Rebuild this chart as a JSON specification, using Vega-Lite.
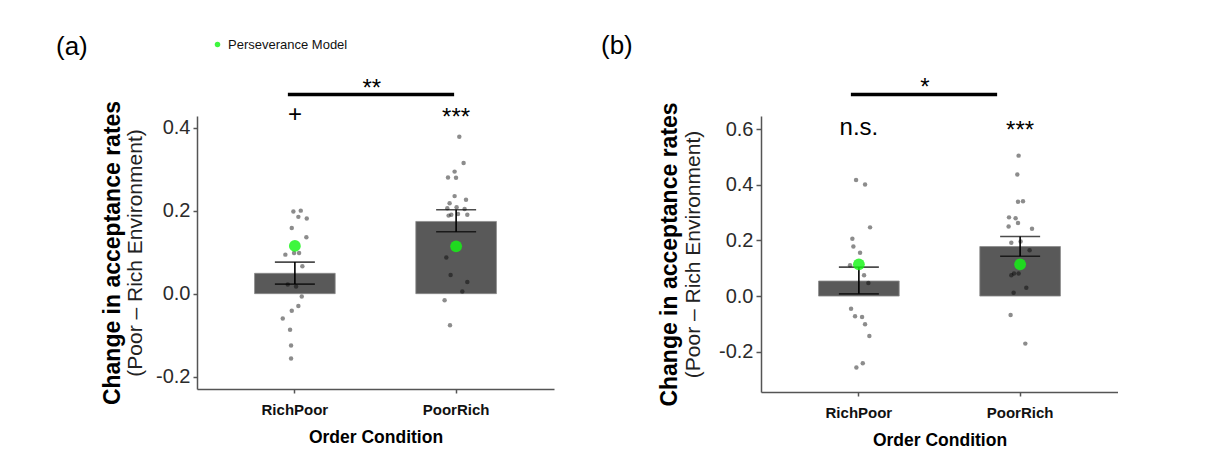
{
  "$schema": "https://vega.github.io/schema/vega-lite/v6.json",
  "background": "white",
  "padding": {"left": 56, "top": 33, "right": 0, "bottom": 0},
  "config": {"font": "Liberation Sans", "view": {"stroke": null}},
  "spacing": 47,
  "datasets": {
    "pts": [
      {"panel": "a", "cond": "RichPoor", "value": 0.198, "jit": -1.7},
      {"panel": "a", "cond": "RichPoor", "value": 0.200, "jit": 5.7},
      {"panel": "a", "cond": "RichPoor", "value": 0.185, "jit": 3.3},
      {"panel": "a", "cond": "RichPoor", "value": 0.181, "jit": 11.7},
      {"panel": "a", "cond": "RichPoor", "value": 0.158, "jit": -3.3},
      {"panel": "a", "cond": "RichPoor", "value": 0.136, "jit": 11.3},
      {"panel": "a", "cond": "RichPoor", "value": 0.094, "jit": -9.7},
      {"panel": "a", "cond": "RichPoor", "value": 0.098, "jit": -1},
      {"panel": "a", "cond": "RichPoor", "value": 0.098, "jit": 4},
      {"panel": "a", "cond": "RichPoor", "value": 0.066, "jit": 7.3},
      {"panel": "a", "cond": "RichPoor", "value": 0.022, "jit": -7.3},
      {"panel": "a", "cond": "RichPoor", "value": 0.017, "jit": 1},
      {"panel": "a", "cond": "RichPoor", "value": -0.007, "jit": 6.7},
      {"panel": "a", "cond": "RichPoor", "value": -0.030, "jit": 3.3},
      {"panel": "a", "cond": "RichPoor", "value": -0.041, "jit": -3.3},
      {"panel": "a", "cond": "RichPoor", "value": -0.060, "jit": -12.3},
      {"panel": "a", "cond": "RichPoor", "value": -0.087, "jit": -5},
      {"panel": "a", "cond": "RichPoor", "value": -0.125, "jit": -4},
      {"panel": "a", "cond": "RichPoor", "value": -0.156, "jit": -4},
      {"panel": "a", "cond": "PoorRich", "value": 0.378, "jit": 3},
      {"panel": "a", "cond": "PoorRich", "value": 0.315, "jit": 7.3},
      {"panel": "a", "cond": "PoorRich", "value": 0.294, "jit": -1.7},
      {"panel": "a", "cond": "PoorRich", "value": 0.280, "jit": -8.3},
      {"panel": "a", "cond": "PoorRich", "value": 0.279, "jit": -0.3},
      {"panel": "a", "cond": "PoorRich", "value": 0.235, "jit": -1.7},
      {"panel": "a", "cond": "PoorRich", "value": 0.226, "jit": 9.7},
      {"panel": "a", "cond": "PoorRich", "value": 0.218, "jit": -6.7},
      {"panel": "a", "cond": "PoorRich", "value": 0.206, "jit": -9},
      {"panel": "a", "cond": "PoorRich", "value": 0.208, "jit": 0.3},
      {"panel": "a", "cond": "PoorRich", "value": 0.204, "jit": 8.3},
      {"panel": "a", "cond": "PoorRich", "value": 0.188, "jit": -7.7},
      {"panel": "a", "cond": "PoorRich", "value": 0.190, "jit": -5},
      {"panel": "a", "cond": "PoorRich", "value": 0.192, "jit": 1.7},
      {"panel": "a", "cond": "PoorRich", "value": 0.190, "jit": 11},
      {"panel": "a", "cond": "PoorRich", "value": 0.087, "jit": -10},
      {"panel": "a", "cond": "PoorRich", "value": 0.045, "jit": -5.7},
      {"panel": "a", "cond": "PoorRich", "value": 0.028, "jit": 11},
      {"panel": "a", "cond": "PoorRich", "value": 0.005, "jit": 6},
      {"panel": "a", "cond": "PoorRich", "value": -0.016, "jit": -11.7},
      {"panel": "a", "cond": "PoorRich", "value": -0.076, "jit": -6.3},
      {"panel": "b", "cond": "RichPoor", "value": 0.417, "jit": -3},
      {"panel": "b", "cond": "RichPoor", "value": 0.401, "jit": 6},
      {"panel": "b", "cond": "RichPoor", "value": 0.247, "jit": 11},
      {"panel": "b", "cond": "RichPoor", "value": 0.206, "jit": -6.7},
      {"panel": "b", "cond": "RichPoor", "value": 0.178, "jit": -5.7},
      {"panel": "b", "cond": "RichPoor", "value": 0.156, "jit": 1},
      {"panel": "b", "cond": "RichPoor", "value": 0.111, "jit": -9},
      {"panel": "b", "cond": "RichPoor", "value": 0.075, "jit": 5},
      {"panel": "b", "cond": "RichPoor", "value": 0.047, "jit": 9.3},
      {"panel": "b", "cond": "RichPoor", "value": -0.046, "jit": -8},
      {"panel": "b", "cond": "RichPoor", "value": -0.073, "jit": -4},
      {"panel": "b", "cond": "RichPoor", "value": -0.075, "jit": 3},
      {"panel": "b", "cond": "RichPoor", "value": -0.101, "jit": 6},
      {"panel": "b", "cond": "RichPoor", "value": -0.144, "jit": 10.3},
      {"panel": "b", "cond": "RichPoor", "value": -0.242, "jit": 3.7},
      {"panel": "b", "cond": "RichPoor", "value": -0.257, "jit": -2.7},
      {"panel": "b", "cond": "PoorRich", "value": 0.505, "jit": -1.7},
      {"panel": "b", "cond": "PoorRich", "value": 0.437, "jit": -3},
      {"panel": "b", "cond": "PoorRich", "value": 0.339, "jit": -2.3},
      {"panel": "b", "cond": "PoorRich", "value": 0.341, "jit": 2.7},
      {"panel": "b", "cond": "PoorRich", "value": 0.283, "jit": -11.3},
      {"panel": "b", "cond": "PoorRich", "value": 0.280, "jit": -4.7},
      {"panel": "b", "cond": "PoorRich", "value": 0.263, "jit": -2.3},
      {"panel": "b", "cond": "PoorRich", "value": 0.250, "jit": -11.7},
      {"panel": "b", "cond": "PoorRich", "value": 0.242, "jit": 11.7},
      {"panel": "b", "cond": "PoorRich", "value": 0.192, "jit": -9},
      {"panel": "b", "cond": "PoorRich", "value": 0.196, "jit": 0.3},
      {"panel": "b", "cond": "PoorRich", "value": 0.165, "jit": 9.3},
      {"panel": "b", "cond": "PoorRich", "value": 0.075, "jit": -9},
      {"panel": "b", "cond": "PoorRich", "value": 0.081, "jit": -6.3},
      {"panel": "b", "cond": "PoorRich", "value": 0.081, "jit": -1.7},
      {"panel": "b", "cond": "PoorRich", "value": 0.030, "jit": 6},
      {"panel": "b", "cond": "PoorRich", "value": 0.012, "jit": -6.7},
      {"panel": "b", "cond": "PoorRich", "value": -0.068, "jit": -9.7},
      {"panel": "b", "cond": "PoorRich", "value": -0.171, "jit": 5}
    ],
    "summ": [
      {"panel": "a", "cond": "RichPoor", "mean": 0.049, "lo": 0.023, "hi": 0.076, "model": 0.115, "ml": "Perseverance Model"},
      {"panel": "a", "cond": "PoorRich", "mean": 0.174, "lo": 0.149, "hi": 0.202, "model": 0.114, "ml": "Perseverance Model"},
      {"panel": "b", "cond": "RichPoor", "mean": 0.054, "lo": 0.008, "hi": 0.104, "model": 0.114, "ml": "Perseverance Model"},
      {"panel": "b", "cond": "PoorRich", "mean": 0.178, "lo": 0.143, "hi": 0.214, "model": 0.114, "ml": "Perseverance Model"}
    ],
    "ann": [
      {"panel": "a", "cond": "RichPoor", "label": "+", "y": 0.4135},
      {"panel": "a", "cond": "PoorRich", "label": "***", "y": 0.407},
      {"panel": "b", "cond": "RichPoor", "label": "n.s.", "y": 0.578},
      {"panel": "b", "cond": "PoorRich", "label": "***", "y": 0.568}
    ],
    "brk": [
      {"panel": "a", "from": "RichPoor", "to": "PoorRich", "y": 0.4795, "ly": 0.475, "label": "**"},
      {"panel": "b", "from": "RichPoor", "to": "PoorRich", "y": 0.725, "ly": 0.722, "label": "*"}
    ]
  },
  "hconcat": [
    {
      "width": 357,
      "height": 273,
      "title": {"text": "(a)", "anchor": "start", "frame": "group", "dx": -141, "dy": -13, "fontSize": 26, "fontWeight": "normal", "color": "#000"},
      "layer": [
        {
          "data": {"name": "summ"},
          "transform": [{"filter": "datum.panel == 'a'"}],
          "mark": {"type": "bar", "color": "#595959", "stroke": "#8a8a8a", "strokeWidth": 0.8},
          "encoding": {
            "x": {"field": "cond", "type": "nominal", "scale": {"domain": ["RichPoor", "PoorRich"], "paddingInner": 0.5, "paddingOuter": 0.357},
              "axis": {"title": "Order Condition", "labelAngle": 0, "labelFontSize": 15, "labelFontWeight": "bold", "labelColor": "#111", "labelPadding": 9, "tickSize": 4, "tickColor": "#555", "tickWidth": 1.5, "domainColor": "#555", "domainWidth": 1.5, "titleFontSize": 17.5, "titleFontWeight": "bold", "titleColor": "#000", "titlePadding": 11}},
            "y": {"field": "mean", "type": "quantitative", "scale": {"domain": [-0.2297, 0.428], "nice": false, "zero": false},
              "axis": {"title": "Change in acceptance rates", "values": [-0.2, 0, 0.2, 0.4], "format": ".1f", "labelExpr": "replace(datum.label, '\u2212', '-')", "grid": false, "labelFontSize": 20, "labelColor": "#2b2b2b", "labelPadding": 3, "tickSize": 4, "tickColor": "#555", "tickWidth": 1.5, "domainColor": "#555", "domainWidth": 1.5, "titleFontSize": 23, "titleFontWeight": "bold", "titleColor": "#000", "titleBaseline": "alphabetic", "titleX": -78}},
            "y2": {"datum": 0}
          }
        },
        {
          "data": {"name": "pts"},
          "transform": [{"filter": "datum.panel == 'a'"}],
          "mark": {"type": "circle", "size": 20, "color": "#000", "opacity": 0.45},
          "encoding": {
            "x": {"field": "cond", "type": "nominal", "scale": {"domain": ["RichPoor", "PoorRich"]}},
            "xOffset": {"field": "jit", "type": "quantitative", "scale": {"domain": [-50, 50], "range": [-9.5, 90.5]}},
            "y": {"field": "value", "type": "quantitative", "scale": {"domain": [-0.2297, 0.428], "nice": false, "zero": false},
              "axis": {"orient": "left", "title": "(Poor \u2013 Rich Environment)", "labels": false, "ticks": false, "domain": false, "grid": false, "titleFontSize": 21, "titleFontWeight": "normal", "titleColor": "#222", "titleBaseline": "alphabetic", "titleX": -55.5}}
          }
        },
        {
          "data": {"name": "summ"},
          "transform": [{"filter": "datum.panel == 'a'"}],
          "mark": {"type": "rule", "color": "#000", "strokeWidth": 1.6},
          "encoding": {
            "x": {"field": "cond", "type": "nominal", "scale": {"domain": ["RichPoor", "PoorRich"]}},
            "y": {"field": "lo", "type": "quantitative", "axis": null},
            "y2": {"field": "hi"}
          }
        },
        {
          "data": {"name": "summ"},
          "transform": [{"filter": "datum.panel == 'a'"}],
          "mark": {"type": "tick", "color": "#000", "size": 40, "thickness": 1.6},
          "encoding": {
            "x": {"field": "cond", "type": "nominal", "scale": {"domain": ["RichPoor", "PoorRich"]}},
            "y": {"field": "lo", "type": "quantitative", "axis": null}
          }
        },
        {
          "data": {"name": "summ"},
          "transform": [{"filter": "datum.panel == 'a'"}],
          "mark": {"type": "tick", "color": "#000", "size": 40, "thickness": 1.6},
          "encoding": {
            "x": {"field": "cond", "type": "nominal", "scale": {"domain": ["RichPoor", "PoorRich"]}},
            "y": {"field": "hi", "type": "quantitative", "axis": null}
          }
        },
        {
          "data": {"name": "summ"},
          "transform": [{"filter": "datum.panel == 'a'"}],
          "mark": {"type": "circle", "size": 140, "opacity": 0.82},
          "encoding": {
            "x": {"field": "cond", "type": "nominal", "scale": {"domain": ["RichPoor", "PoorRich"]}},
            "y": {"field": "model", "type": "quantitative", "axis": null},
            "color": {"field": "ml", "type": "nominal", "scale": {"domain": ["Perseverance Model"], "range": ["#14f514"]},
              "legend": {"title": null, "orient": "none", "legendX": 14, "legendY": -78, "labelFontSize": 13, "labelColor": "#111", "symbolSize": 30, "symbolType": "circle", "labelOffset": 4}}
          }
        },
        {
          "data": {"name": "ann"},
          "transform": [{"filter": "datum.panel == 'a'"}],
          "mark": {"type": "text", "fontSize": 24, "color": "#000", "baseline": "alphabetic"},
          "encoding": {
            "x": {"field": "cond", "type": "nominal", "scale": {"domain": ["RichPoor", "PoorRich"]}},
            "y": {"field": "y", "type": "quantitative", "axis": null},
            "text": {"field": "label"}
          }
        },
        {
          "data": {"name": "brk"},
          "transform": [{"filter": "datum.panel == 'a'"}],
          "mark": {"type": "rule", "color": "#000", "strokeWidth": 3.5, "xOffset": -7, "x2Offset": -2},
          "encoding": {
            "x": {"field": "from", "type": "nominal", "scale": {"domain": ["RichPoor", "PoorRich"]}},
            "x2": {"field": "to"},
            "y": {"field": "y", "type": "quantitative", "axis": null}
          }
        },
        {
          "data": {"name": "brk"},
          "transform": [{"filter": "datum.panel == 'a'"}],
          "mark": {"type": "text", "fontSize": 24, "color": "#000", "baseline": "alphabetic", "dx": 77},
          "encoding": {
            "x": {"field": "from", "type": "nominal", "scale": {"domain": ["RichPoor", "PoorRich"]}},
            "y": {"field": "ly", "type": "quantitative", "axis": null},
            "text": {"field": "label"}
          }
        }
      ],
      "resolve": {"axis": {"y": "independent"}, "scale": {"xOffset": "independent"}}
    },
    {
      "width": 357,
      "height": 276,
      "title": {"text": "(b)", "anchor": "start", "frame": "group", "dx": -160, "dy": -13, "fontSize": 26, "fontWeight": "normal", "color": "#000"},
      "layer": [
        {
          "data": {"name": "summ"},
          "transform": [{"filter": "datum.panel == 'b'"}],
          "mark": {"type": "bar", "color": "#595959", "stroke": "#8a8a8a", "strokeWidth": 0.8},
          "encoding": {
            "x": {"field": "cond", "type": "nominal", "scale": {"domain": ["RichPoor", "PoorRich"], "paddingInner": 0.5, "paddingOuter": 0.357},
              "axis": {"title": "Order Condition", "labelAngle": 0, "labelFontSize": 15, "labelFontWeight": "bold", "labelColor": "#111", "labelPadding": 9, "tickSize": 4, "tickColor": "#555", "tickWidth": 1.5, "domainColor": "#555", "domainWidth": 1.5, "titleFontSize": 17.5, "titleFontWeight": "bold", "titleColor": "#000", "titlePadding": 11}},
            "y": {"field": "mean", "type": "quantitative", "scale": {"domain": [-0.345, 0.6475], "nice": false, "zero": false},
              "axis": {"title": "Change in acceptance rates", "values": [-0.2, 0, 0.2, 0.4, 0.6], "format": ".1f", "labelExpr": "replace(datum.label, '\u2212', '-')", "grid": false, "labelFontSize": 20, "labelColor": "#2b2b2b", "labelPadding": 3, "tickSize": 5, "tickColor": "#555", "tickWidth": 1.5, "domainColor": "#555", "domainWidth": 1.5, "titleFontSize": 23, "titleFontWeight": "bold", "titleColor": "#000", "titleBaseline": "alphabetic", "titleX": -85}},
            "y2": {"datum": 0}
          }
        },
        {
          "data": {"name": "pts"},
          "transform": [{"filter": "datum.panel == 'b'"}],
          "mark": {"type": "circle", "size": 20, "color": "#000", "opacity": 0.45},
          "encoding": {
            "x": {"field": "cond", "type": "nominal", "scale": {"domain": ["RichPoor", "PoorRich"]}},
            "xOffset": {"field": "jit", "type": "quantitative", "scale": {"domain": [-50, 50], "range": [-9.5, 90.5]}},
            "y": {"field": "value", "type": "quantitative", "scale": {"domain": [-0.345, 0.6475], "nice": false, "zero": false},
              "axis": {"orient": "left", "title": "(Poor \u2013 Rich Environment)", "labels": false, "ticks": false, "domain": false, "grid": false, "titleFontSize": 21, "titleFontWeight": "normal", "titleColor": "#222", "titleBaseline": "alphabetic", "titleX": -62}}
          }
        },
        {
          "data": {"name": "summ"},
          "transform": [{"filter": "datum.panel == 'b'"}],
          "mark": {"type": "rule", "color": "#000", "strokeWidth": 1.6},
          "encoding": {
            "x": {"field": "cond", "type": "nominal", "scale": {"domain": ["RichPoor", "PoorRich"]}},
            "y": {"field": "lo", "type": "quantitative", "axis": null},
            "y2": {"field": "hi"}
          }
        },
        {
          "data": {"name": "summ"},
          "transform": [{"filter": "datum.panel == 'b'"}],
          "mark": {"type": "tick", "color": "#000", "size": 40, "thickness": 1.6},
          "encoding": {
            "x": {"field": "cond", "type": "nominal", "scale": {"domain": ["RichPoor", "PoorRich"]}},
            "y": {"field": "lo", "type": "quantitative", "axis": null}
          }
        },
        {
          "data": {"name": "summ"},
          "transform": [{"filter": "datum.panel == 'b'"}],
          "mark": {"type": "tick", "color": "#000", "size": 40, "thickness": 1.6},
          "encoding": {
            "x": {"field": "cond", "type": "nominal", "scale": {"domain": ["RichPoor", "PoorRich"]}},
            "y": {"field": "hi", "type": "quantitative", "axis": null}
          }
        },
        {
          "data": {"name": "summ"},
          "transform": [{"filter": "datum.panel == 'b'"}],
          "mark": {"type": "circle", "size": 140, "opacity": 0.82},
          "encoding": {
            "x": {"field": "cond", "type": "nominal", "scale": {"domain": ["RichPoor", "PoorRich"]}},
            "y": {"field": "model", "type": "quantitative", "axis": null},
            "color": {"field": "ml", "type": "nominal", "scale": {"domain": ["Perseverance Model"], "range": ["#14f514"]},
              "legend": {"title": null, "orient": "none", "legendX": 21, "legendY": -78, "labelFontSize": 13, "labelColor": "#111", "symbolSize": 30, "symbolType": "circle", "labelOffset": 4}}
          }
        },
        {
          "data": {"name": "ann"},
          "transform": [{"filter": "datum.panel == 'b'"}],
          "mark": {"type": "text", "fontSize": 24, "color": "#000", "baseline": "alphabetic"},
          "encoding": {
            "x": {"field": "cond", "type": "nominal", "scale": {"domain": ["RichPoor", "PoorRich"]}},
            "y": {"field": "y", "type": "quantitative", "axis": null},
            "text": {"field": "label"}
          }
        },
        {
          "data": {"name": "brk"},
          "transform": [{"filter": "datum.panel == 'b'"}],
          "mark": {"type": "rule", "color": "#000", "strokeWidth": 3.5, "xOffset": -8, "x2Offset": -23},
          "encoding": {
            "x": {"field": "from", "type": "nominal", "scale": {"domain": ["RichPoor", "PoorRich"]}},
            "x2": {"field": "to"},
            "y": {"field": "y", "type": "quantitative", "axis": null}
          }
        },
        {
          "data": {"name": "brk"},
          "transform": [{"filter": "datum.panel == 'b'"}],
          "mark": {"type": "text", "fontSize": 24, "color": "#000", "baseline": "alphabetic", "dx": 66},
          "encoding": {
            "x": {"field": "from", "type": "nominal", "scale": {"domain": ["RichPoor", "PoorRich"]}},
            "y": {"field": "ly", "type": "quantitative", "axis": null},
            "text": {"field": "label"}
          }
        }
      ],
      "resolve": {"axis": {"y": "independent"}, "scale": {"xOffset": "independent"}}
    }
  ]
}
